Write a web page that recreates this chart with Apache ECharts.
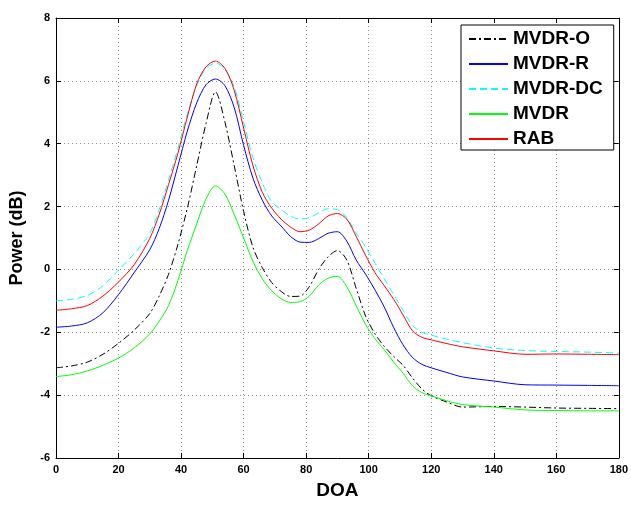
<!DOCTYPE html>
<html><head><meta charset="utf-8">
<script src="https://cdn.jsdelivr.net/npm/echarts/dist/echarts.min.js"></script>
<style>html,body{margin:0;padding:0;background:#fff}#c{width:631px;height:505px}</style>
</head><body><div id="c"></div>
<script>
const doa    = [0,5,10,15,20,25,30,33,36,39,42,45,48,51,54,57,60,63,66,69,72,75,78,81,84,87,90,93,96,99,102,105,108,111,114,117,120,125,130,140,150,160,170,180];
const mvdrO  = [-3.13,-3.07,-2.95,-2.7,-2.35,-1.93,-1.4,-0.85,-0.15,0.8,1.95,3.3,4.65,5.65,4.7,3.3,1.85,0.7,0.05,-0.42,-0.7,-0.86,-0.85,-0.55,0.0,0.4,0.6,0.3,-0.6,-1.48,-2.05,-2.45,-2.77,-3.05,-3.45,-3.8,-4.02,-4.22,-4.38,-4.36,-4.38,-4.41,-4.42,-4.43];
const mvdrR  = [-1.84,-1.8,-1.7,-1.38,-0.8,-0.1,0.63,1.3,2.2,3.3,4.4,5.3,5.88,6.06,5.85,5.15,3.95,2.9,2.2,1.7,1.38,1.05,0.87,0.86,0.98,1.15,1.2,0.9,0.3,-0.15,-0.65,-1.2,-1.85,-2.4,-2.8,-3.02,-3.13,-3.28,-3.42,-3.55,-3.67,-3.68,-3.69,-3.7];
const mvdrDC = [-1.0,-0.95,-0.83,-0.52,-0.02,0.5,1.15,1.9,2.85,3.85,4.95,5.85,6.4,6.56,6.38,5.8,4.7,3.55,2.75,2.15,1.9,1.7,1.6,1.65,1.8,1.93,1.9,1.65,1.15,0.72,0.2,-0.3,-0.8,-1.3,-1.78,-2.0,-2.09,-2.22,-2.33,-2.5,-2.58,-2.61,-2.63,-2.66];
const mvdr   = [-3.41,-3.35,-3.23,-3.05,-2.82,-2.5,-2.05,-1.65,-1.15,-0.35,0.6,1.45,2.25,2.66,2.4,1.75,1.0,0.25,-0.3,-0.68,-0.93,-1.05,-1.03,-0.85,-0.5,-0.28,-0.22,-0.55,-1.15,-1.75,-2.2,-2.56,-2.95,-3.3,-3.7,-3.92,-4.02,-4.18,-4.3,-4.38,-4.47,-4.49,-4.5,-4.5];
const rab    = [-1.3,-1.25,-1.15,-0.85,-0.4,0.15,0.99,1.75,2.7,3.7,4.85,5.9,6.45,6.63,6.4,5.7,4.5,3.3,2.45,1.95,1.6,1.35,1.2,1.25,1.45,1.7,1.78,1.6,1.05,0.45,-0.1,-0.52,-0.95,-1.45,-1.95,-2.16,-2.24,-2.36,-2.46,-2.59,-2.7,-2.69,-2.7,-2.71];
const seriesNames = ['MVDR-O','MVDR-R','MVDR-DC','MVDR','RAB'];
const xRange = [0,180,20];
const yRange = [-6,8,2];

const FONT = '"Liberation Sans", Arial, sans-serif';
const pairs = arr => doa.map((x,i)=>[x,arr[i]]);
const chart = echarts.init(document.getElementById('c'), null, {renderer:'canvas'});
const tickLbl = {color:'#000', fontSize:11, fontWeight:'bold', fontFamily:FONT};
function xAx(pos, main){
  return {type:'value', min:xRange[0], max:xRange[1], interval:xRange[2], position:pos,
    axisLine:{show:true,onZero:false,lineStyle:{color:'#000',width:1}},
    axisTick:{show:true,inside:true,length:5,lineStyle:{color:'#000'}},
    axisLabel:Object.assign({show:main, margin:6}, tickLbl),
    splitLine:{show:main, lineStyle:{color:'#8a8a8a', width:1, type:[1,3]}},
    name: main ? 'DOA' : '', nameLocation:'middle', nameGap:23,
    nameTextStyle:{color:'#000', fontSize:19, fontWeight:'bold', fontFamily:FONT}};
}
function yAx(pos, main){
  return {type:'value', min:yRange[0], max:yRange[1], interval:yRange[2], position:pos,
    axisLine:{show:true,onZero:false,lineStyle:{color:'#000',width:1}},
    axisTick:{show:true,inside:true,length:5,lineStyle:{color:'#000'}},
    axisLabel:Object.assign({show:main, margin:6}, tickLbl),
    splitLine:{show:main, lineStyle:{color:'#8a8a8a', width:1, type:[1,3]}},
    name: main ? 'Power (dB)' : '', nameLocation:'middle', nameGap:30, nameRotate:90,
    nameTextStyle:{color:'#000', fontSize:18, fontWeight:'bold', fontFamily:FONT}};
}
const styles = [
  {color:'#000000', type:[7,3,2,3]},
  {color:'#0000ff', type:'solid'},
  {color:'#00ffff', type:[7,4]},
  {color:'#00ff00', type:'solid'},
  {color:'#ff0000', type:'solid'}
];
const datas = [mvdrO, mvdrR, mvdrDC, mvdr, rab];
chart.setOption({
  animation:false,
  backgroundColor:'#fff',
  grid:{left:55, right:10, top:18, bottom:40, show:false},
  xAxis:[xAx('bottom',true), xAx('top',false)],
  yAxis:[yAx('left',true), yAx('right',false)],
  legend:{orient:'vertical', left:461, top:25, data:seriesNames,
    itemWidth:39, itemHeight:10, itemGap:5, padding:[4,11,1,7],
    itemStyle:{opacity:0},
    borderColor:'#000', borderWidth:1, borderRadius:0, backgroundColor:'#fff',
    textStyle:{color:'#000', fontSize:19, fontWeight:'bold', fontFamily:FONT, lineHeight:20}},
  series: seriesNames.map((n,i)=>({
    name:n, type:'line', data:pairs(datas[i]), symbol:'none', smooth:0.3,
    lineStyle:{color:styles[i].color, width:1, type:styles[i].type},
    itemStyle:{color:styles[i].color}, z: 2+i
  }))
});
</script></body></html>
